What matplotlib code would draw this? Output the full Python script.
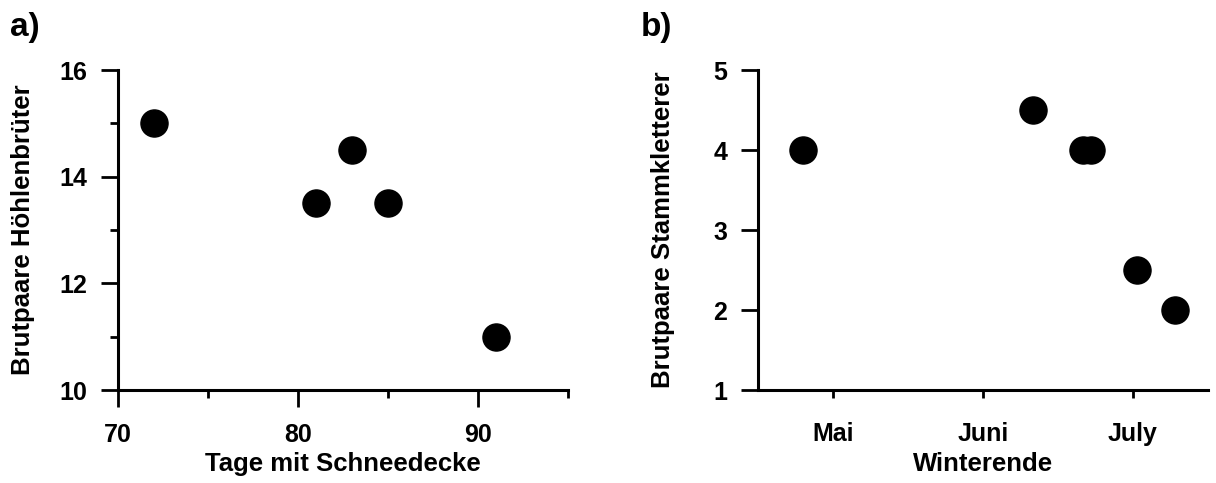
import matplotlib.pyplot as plt
from matplotlib.ticker import MultipleLocator

plt.rcParams['font.family'] = ['Liberation Sans', 'DejaVu Sans']
plt.rcParams['font.weight'] = 'bold'
plt.rcParams['axes.labelweight'] = 'bold'

# panel a) snow cover days vs. cavity nesters
schnee_tage = [72, 81, 83, 85, 91]
hoehlenbrueter = [15.0, 13.5, 14.5, 13.5, 11.0]

# panel b) end of winter (month number, 5 = Mai) vs. trunk climbers
winterende = [4.80, 6.33, 6.67, 6.72, 7.03, 7.28]
stammkletterer = [4.0, 4.5, 4.0, 4.0, 2.5, 2.0]
monat_pos = [5, 6, 7]
monat_labels = ["Mai", "Juni", "July"]

fig = plt.figure(figsize=(12.16, 4.83), dpi=100)
ax1 = fig.add_axes([0.097, 0.1925, 0.370, 0.6625])
ax2 = fig.add_axes([0.6234, 0.1925, 0.370, 0.6625])

msize = 19.5
for ax in (ax1, ax2):
    for side in ("top", "right"):
        ax.spines[side].set_visible(False)
    for side in ("left", "bottom"):
        ax.spines[side].set_linewidth(2.2)
    ax.tick_params(which="both", direction="out", width=2.0, labelsize=18)

ax1.plot(schnee_tage, hoehlenbrueter, "o", color="black", markersize=msize)
ax1.set_xlim(70, 95)
ax1.set_ylim(10, 16)
ax1.xaxis.set_major_locator(MultipleLocator(10))
ax1.xaxis.set_minor_locator(MultipleLocator(5))
ax1.yaxis.set_major_locator(MultipleLocator(2))
ax1.yaxis.set_minor_locator(MultipleLocator(1))
ax1.tick_params(which="major", length=12)
ax1.tick_params(which="minor", length=6)
ax1.tick_params(axis="x", which="major", pad=12)
ax1.tick_params(axis="y", which="major", pad=10)
ax1.set_xlabel("Tage mit Schneedecke", fontsize=18.5)
ax1.set_ylabel("Brutpaare Höhlenbrüter", fontsize=18.5)

ax2.plot(winterende, stammkletterer, "o", color="black", markersize=msize)
ax2.set_xlim(4.5, 7.5)
ax2.set_ylim(1, 5)
ax2.set_xticks(monat_pos)
ax2.set_xticklabels(monat_labels)
ax2.yaxis.set_major_locator(MultipleLocator(1))
ax2.tick_params(axis="y", length=12, pad=10)
ax2.tick_params(axis="x", length=6, pad=17)
ax2.set_xlabel("Winterende", fontsize=18.5)
ax2.set_ylabel("Brutpaare Stammkletterer", fontsize=18.5)

for ax in (ax1, ax2):
    ax.xaxis.set_label_coords(0.5, -0.195)
    ax.yaxis.set_label_coords(-0.184, 0.5)

fig.text(0.008, 0.975, "a)", fontsize=24, fontweight="bold", va="top")
fig.text(0.527, 0.975, "b)", fontsize=24, fontweight="bold", va="top")

fig.savefig("out.png", dpi=100)
